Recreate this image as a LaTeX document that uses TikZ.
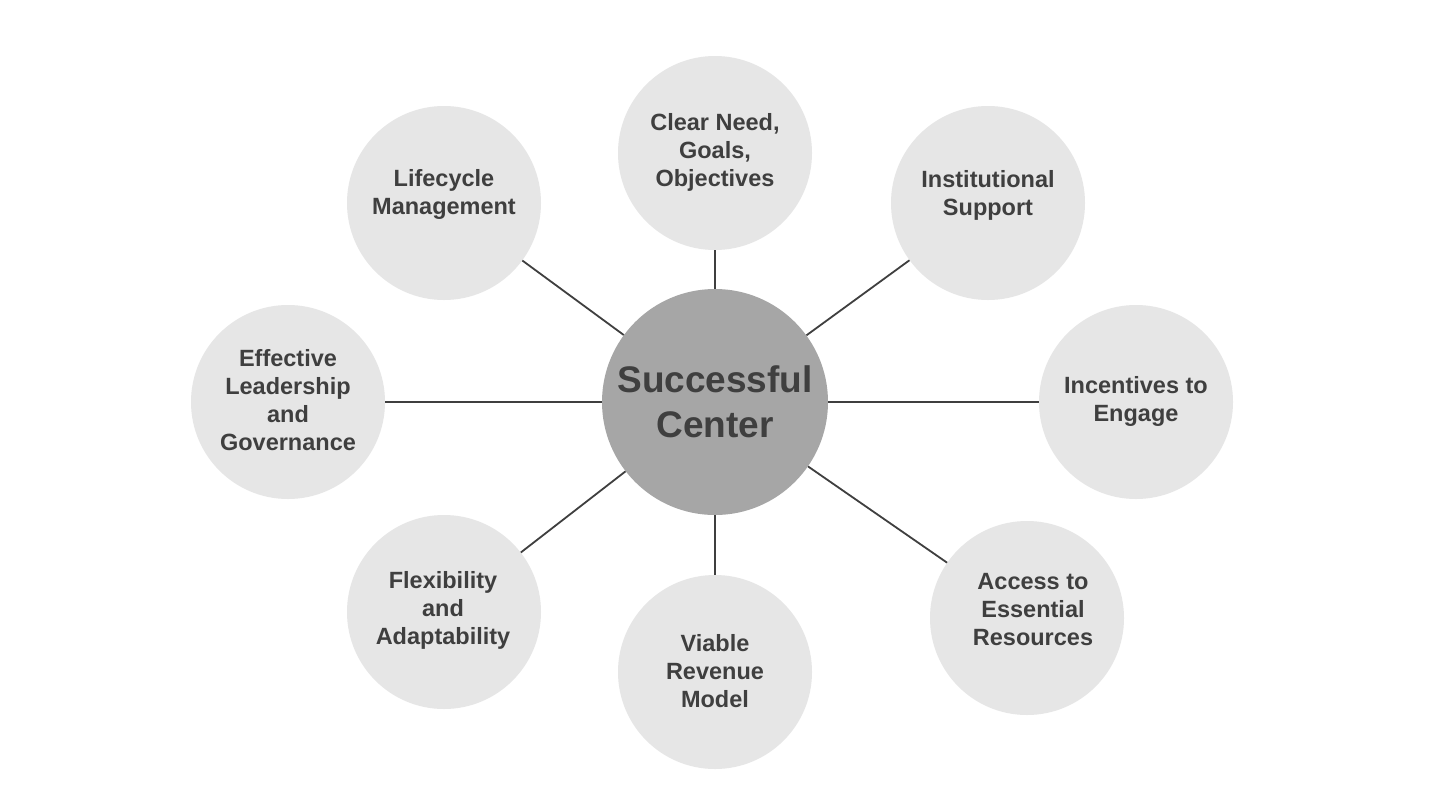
\documentclass[tikz,border=0pt]{standalone}
\usepackage{fontspec}
\setmainfont{Liberation Sans}
\definecolor{txt}{HTML}{3F3F3F}
\definecolor{outerfill}{HTML}{E6E6E6}
\definecolor{centerfill}{HTML}{A6A6A6}
\begin{document}
\begin{tikzpicture}[x=1pt,y=-1pt,
  outer/.style={circle,fill=outerfill,minimum size=194pt,inner sep=0pt},
  lbl/.style={align=center,inner sep=0pt,text=txt,font=\fontsize{23.5}{28}\selectfont\bfseries},
  hub/.style={circle,fill=centerfill,minimum size=226pt,inner sep=0pt,align=center,
    text=txt,font=\fontsize{37}{45}\selectfont\bfseries},
  link/.style={draw=txt,line width=1.8pt}]
\fill[white] (0,0) rectangle (1430,804);
\useasboundingbox (0,0) rectangle (1430,804);
\node[hub] (c) at (715,402) {Successful\\Center};
\node[outer] (n1) at (715,153) {};
\node[outer] (n2) at (988,203) {};
\node[outer] (n3) at (1136,402) {};
\node[outer] (n4) at (1027,618) {};
\node[outer] (n5) at (715,672) {};
\node[outer] (n6) at (444,612) {};
\node[outer] (n7) at (288,402) {};
\node[outer] (n8) at (444,203) {};
\node[lbl] (t1) at (715,152) {Clear Need,\\Goals,\\Objectives};
\node[lbl] (t2) at (988,195) {Institutional\\Support};
\node[lbl] (t3) at (1136,401) {Incentives to\\Engage};
\node[lbl] (t4) at (1033,610) {Access to\\Essential\\Resources};
\node[lbl] (t5) at (715,671) {Viable\\Revenue\\Model};
\node[lbl] (t6) at (443,610) {Flexibility\\and\\Adaptability};
\node[lbl] (t7) at (288,400) {Effective\\Leadership\\and\\Governance};
\node[lbl] (t8) at (444,194) {Lifecycle\\Management};
\foreach \n in {n1,n2,n3,n4,n5,n6,n7,n8}
  \draw[link] (c) -- (\n);
\end{tikzpicture}
\end{document}
